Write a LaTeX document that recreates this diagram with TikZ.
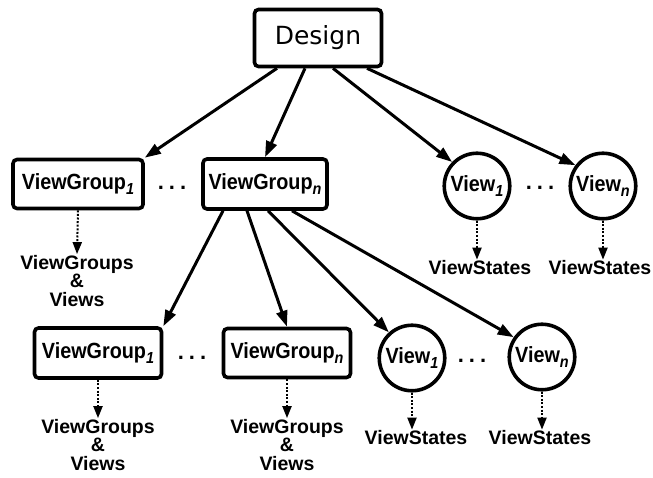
\documentclass[tikz,border=0pt]{standalone}
\usepackage{fontspec}
\newfontfamily\lblfont[FakeStretch=0.9]{Liberation Sans}
\newfontfamily\notefont{Liberation Sans}
\newfontfamily\titlefont{DejaVu Sans}
\usetikzlibrary{arrows.meta,calc}
% subscript index in the node labels
\newcommand\lsub[1]{\raisebox{-5pt}{\fontsize{16}{16}\selectfont\itshape #1}}
\begin{document}
\begin{tikzpicture}[x=1pt,y=-1pt,
  box/.style={draw, line width=3.6pt, rounded corners=4pt, inner sep=0pt,
    font=\lblfont\bfseries\fontsize{22}{24}\selectfont},
  viewc/.style={draw, circle, line width=3.6pt, minimum size=65.5pt, inner sep=0pt,
    font=\lblfont\bfseries\fontsize{22}{24}\selectfont},
  edge/.style={line width=3pt, -{Triangle[length=16pt,width=11pt]}},
  dotedge/.style={line width=2pt, dash pattern=on 2pt off 1.6pt,
    -{Triangle[length=12pt,width=9pt]}},
  note/.style={font=\notefont\bfseries\fontsize{19.5}{18.5}\selectfont,
    align=center, inner sep=1pt},
  ellip/.style={font=\notefont\bfseries\fontsize{22}{24}\selectfont, anchor=base, inner sep=0pt}]

\fill[white] (0,0) rectangle (653,478);
\path[use as bounding box] (0,0) rectangle (653,478);

% root
\node[box, minimum width=127pt, minimum height=57pt,
  font=\titlefont\fontsize{25}{27}\selectfont] (design) at (318,38) {Design};

% first level
\node[box, minimum width=130pt, minimum height=49pt] (tvg1) at (78,184) {ViewGroup\lsub{1}};
\node[ellip] (tdots1) at (172,190) {.\hspace{5pt}.\hspace{5pt}.};
\node[box, minimum width=124pt, minimum height=50pt] (tvgn) at (265,184) {ViewGroup\lsub{n}};
\node[viewc] (tv1) at (477,186) {View\lsub{1}};
\node[ellip] (tdots2) at (540,190) {.\hspace{5pt}.\hspace{5pt}.};
\node[viewc] (tvn) at (603,186) {View\lsub{n}};

% contents of the first level
\node[note] (tlab1) at (77,281) {ViewGroups\\\&\\Views};
\node[note] (tlab2) at (480,268) {ViewStates};
\node[note] (tlab3) at (600,268) {ViewStates};

% second level, below ViewGroup_n
\node[box, minimum width=127pt, minimum height=50pt] (bvg1) at (98,353) {ViewGroup\lsub{1}};
\node[ellip] (bdots1) at (192,359) {.\hspace{5pt}.\hspace{5pt}.};
\node[box, minimum width=127pt, minimum height=49pt] (bvgn) at (287,353) {ViewGroup\lsub{n}};
\node[viewc] (bv1) at (412,358) {View\lsub{1}};
\node[ellip] (bdots2) at (472,362) {.\hspace{5pt}.\hspace{5pt}.};
\node[viewc] (bvn) at (542,357) {View\lsub{n}};

% contents of the second level
\node[note] (blab1) at (98,445) {ViewGroups\\\&\\Views};
\node[note] (blab2) at (287,445) {ViewGroups\\\&\\Views};
\node[note] (blab3) at (416,438) {ViewStates};
\node[note] (blab4) at (540,438) {ViewStates};

% containment edges
\draw[edge] ([xshift=-41pt]design.south) -- (tvg1.north east);
\draw[edge] ([xshift=-13pt]design.south) -- (tvgn.north);
\draw[edge] ([xshift=15pt]design.south) -- (tv1.136);
\draw[edge] ([xshift=49pt]design.south) -- (tvn.143);

\draw[edge] ([xshift=-42pt]tvgn.south) -- (bvg1.north east);
\draw[edge] ([xshift=-18pt]tvgn.south) -- (bvgn.north);
\draw[edge] ([xshift=3pt]tvgn.south) -- (bv1.132);
\draw[edge] ([xshift=27pt]tvgn.south) -- (bvn.145);

% elided subtrees
\draw[dotedge] (tvg1.south) -- (tlab1.north);
\draw[dotedge] (tv1.south) -- (tv1.south |- tlab2.north);
\draw[dotedge] (tvn.south) -- (tvn.south |- tlab3.north);
\draw[dotedge] (bvg1.south) -- (blab1.north);
\draw[dotedge] (bvgn.south) -- (blab2.north);
\draw[dotedge] (bv1.south) -- (bv1.south |- blab3.north);
\draw[dotedge] (bvn.south) -- (bvn.south |- blab4.north);
\end{tikzpicture}
\end{document}
